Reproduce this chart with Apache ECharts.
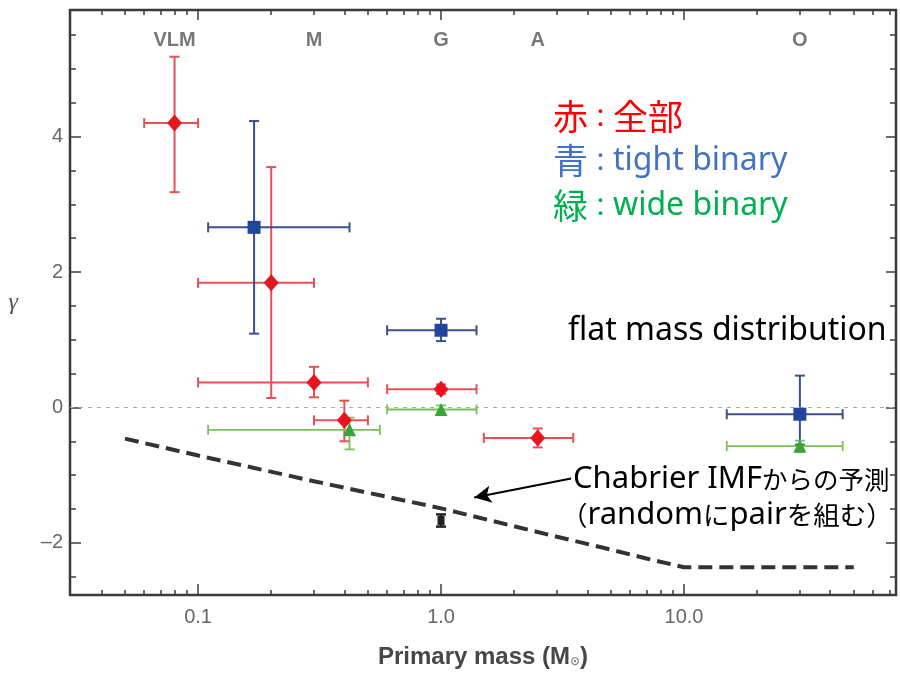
<!DOCTYPE html>
<html><head><meta charset="utf-8">
<script src="https://cdn.jsdelivr.net/npm/echarts@6/dist/echarts.min.js"></script>
<style>html,body{margin:0;padding:0;background:#fff}#c{width:900px;height:673px}</style>
</head><body><div id="c"></div>
<script>
// ---------- data ----------
const xTickValues = [0.1, 1, 10];
const xTickLabels = ['0.1', '1.0', '10.0'];
const xMinorTicks = [0.04,0.05,0.06,0.07,0.08,0.09,0.2,0.3,0.4,0.5,0.6,0.7,0.8,0.9,2,3,4,5,6,7,8,9,20,30,40,50,60,70];
const yTickValues = [-2, 0, 2, 4];
const yTickLabels = ['\u20132', '0', '2', '4'];
const yMinorTicks = [-2.5,-1.5,-1,-0.5,0.5,1,1.5,2.5,3,3.5,4.5,5,5.5];

const spectralTypes = ['VLM', 'M', 'G', 'A', 'O'];
const spectralMass = [0.08, 0.3, 1.0, 2.5, 30];

// red: all
const allMass    = [0.08, 0.2, 0.3, 0.4, 1.0, 2.5];
const allGamma   = [4.2, 1.84, 0.37, -0.19, 0.27, -0.45];
const allMassLo  = [0.06, 0.1, 0.1, 0.3, 0.6, 1.5];
const allMassHi  = [0.1, 0.3, 0.5, 0.5, 1.4, 3.5];
const allGammaLo = [3.18, 0.14, 0.15, -0.5, 0.2, -0.59];
const allGammaHi = [5.18, 3.55, 0.6, 0.1, 0.34, -0.31];

// blue: tight binary
const tightMass    = [0.17, 1.0, 30];
const tightGamma   = [2.66, 1.14, -0.1];
const tightMassLo  = [0.11, 0.6, 15];
const tightMassHi  = [0.42, 1.4, 45];
const tightGammaLo = [1.09, 0.98, -0.55];
const tightGammaHi = [4.23, 1.31, 0.47];

// green: wide binary
const wideMass    = [0.42, 1.0, 30];
const wideGamma   = [-0.33, -0.03, -0.57];
const wideMassLo  = [0.11, 0.6, 15];
const wideMassHi  = [0.56, 1.4, 45];
const wideGammaLo = [-0.62, -0.09, -0.66];
const wideGammaHi = [-0.15, 0.03, -0.49];

// black: random pairing
const randomMass    = [1.0];
const randomGamma   = [-1.67];
const randomGammaLo = [-1.76];
const randomGammaHi = [-1.58];

// Chabrier IMF prediction (dashed)
const chabrierMass  = [0.05, 0.1, 0.3, 1.0, 3.0, 5.0, 7.0, 10, 50];
const chabrierGamma = [-0.46, -0.71, -1.09, -1.49, -1.91, -2.10, -2.23, -2.36, -2.36];

// ---------- chart ----------
const X_MIN = 0.0297, X_MAX = 74.6, Y_MIN = -2.77, Y_MAX = 5.87;
const AX = '#3c3c3c';
const LABEL_GRAY = '#666666';
const NARROW = '"Liberation Sans Narrow", "Liberation Sans", sans-serif';

function fmtX(v) {
  for (let i = 0; i < xTickValues.length; i++)
    if (Math.abs(Math.log10(v) - Math.log10(xTickValues[i])) < 1e-6) return xTickLabels[i];
  return '';
}
function fmtY(v) {
  for (let i = 0; i < yTickValues.length; i++)
    if (Math.abs(v - yTickValues[i]) < 1e-9) return yTickLabels[i];
  return '';
}

function xAxisDef(position, ticks, len, withLabels) {
  const a = {
    type: 'log', logBase: 10, min: X_MIN, max: X_MAX, position: position, gridIndex: 0,
    axisLine: { show: false, onZero: false }, splitLine: { show: false },
    minorTick: { show: false }, minorSplitLine: { show: false },
    axisTick: { show: true, inside: true, length: len, customValues: ticks, lineStyle: { color: AX, width: 1.5 } },
    axisLabel: withLabels ? {
      show: true, customValues: xTickValues, formatter: fmtX, color: LABEL_GRAY,
      fontSize: 20, fontFamily: NARROW, margin: 12
    } : { show: false }
  };
  if (withLabels) {
    a.name = 'Primary mass (M{sub|\u2299})';
    a.nameLocation = 'middle';
    a.nameGap = 50;
    a.nameTextStyle = {
      fontSize: 24, fontWeight: 'bold', color: '#474747', fontFamily: NARROW,
      rich: { sub: { fontSize: 12, color: '#888', fontFamily: 'DejaVu Sans', padding: [10, 0, 0, 0] } }
    };
  }
  return a;
}
function yAxisDef(position, ticks, len, withLabels) {
  const a = {
    type: 'value', min: Y_MIN, max: Y_MAX, position: position, gridIndex: 0,
    axisLine: { show: false, onZero: false }, splitLine: { show: false },
    minorTick: { show: false }, minorSplitLine: { show: false },
    axisTick: { show: true, inside: true, length: len, customValues: ticks, lineStyle: { color: AX, width: 1.5 } },
    axisLabel: withLabels ? {
      show: true, customValues: yTickValues, formatter: fmtY, color: LABEL_GRAY,
      fontSize: 20, fontFamily: NARROW, margin: 7
    } : { show: false }
  };
  if (withLabels) {
    a.name = '\u03b3';
    a.nameLocation = 'middle';
    a.nameRotate = 0;
    a.nameGap = 52;
    a.nameTextStyle = { fontSize: 24, fontStyle: 'italic', color: '#555', fontFamily: '"Liberation Serif", serif', padding: [22, 0, 0, 0] };
  }
  return a;
}

function errorBars(mass, gamma, mlo, mhi, glo, ghi, color, width, z) {
  const data = mass.map((m, i) => [m, gamma[i], mlo[i], mhi[i], glo[i], ghi[i]]);
  return {
    type: 'custom', data: data, z: z, silent: true, clip: false,
    xAxisIndex: 0, yAxisIndex: 0,
    encode: { x: 0, y: 1 },
    renderItem: function (params, api) {
      const yv = api.value(1), xv = api.value(0);
      const l = api.coord([api.value(2), yv]);
      const r = api.coord([api.value(3), yv]);
      const b = api.coord([xv, api.value(4)]);
      const t = api.coord([xv, api.value(5)]);
      const cap = 5;
      const st = { stroke: color, lineWidth: width, fill: null };
      const ch = [];
      const seg = (x1, y1, x2, y2) => ch.push({ type: 'line', shape: { x1, y1, x2, y2 }, style: st });
      if (r[0] - l[0] > 1) {
        seg(l[0], l[1], r[0], r[1]);
        seg(l[0], l[1] - cap, l[0], l[1] + cap);
        seg(r[0], r[1] - cap, r[0], r[1] + cap);
      }
      if (b[1] - t[1] > 1) {
        seg(b[0], b[1], t[0], t[1]);
        seg(b[0] - cap, b[1], b[0] + cap, b[1]);
        seg(t[0] - cap, t[1], t[0] + cap, t[1]);
      }
      return { type: 'group', children: ch };
    }
  };
}
function markers(mass, gamma, symbol, size, color, z) {
  return {
    type: 'scatter', xAxisIndex: 0, yAxisIndex: 0, z: z, silent: true,
    data: mass.map((m, i) => [m, gamma[i]]),
    symbol: symbol, symbolSize: size,
    itemStyle: { color: color, opacity: 1 }
  };
}

const RED = '#e8141e', RED_BAR = '#e85058';
const BLUE = '#23449c', BLUE_BAR = '#3c4f8e';
const GREEN = '#3ba23a', GREEN_BAR = '#79c05a';

const option = {
  animation: false,
  backgroundColor: '#ffffff',
  grid: {
    left: 70, right: 4, top: 10, bottom: 78, containLabel: false, outerBoundsMode: 'none',
    show: true, borderColor: '#3a3a3a', borderWidth: 2.5, backgroundColor: 'transparent'
  },
  xAxis: [
    xAxisDef('bottom', xTickValues, 11, true),
    xAxisDef('bottom', xMinorTicks, 5, false),
    xAxisDef('top', xTickValues, 10, false),
    xAxisDef('top', xMinorTicks, 5, false)
  ],
  yAxis: [
    yAxisDef('left', yTickValues, 11, true),
    yAxisDef('left', yMinorTicks, 6, false),
    yAxisDef('right', yTickValues, 10, false),
    yAxisDef('right', yMinorTicks, 6, false)
  ],
  series: [
    {
      type: 'line', xAxisIndex: 0, yAxisIndex: 0, z: 2, silent: true,
      data: chabrierMass.map((m, i) => [m, chabrierGamma[i]]),
      showSymbol: false, symbol: 'none',
      lineStyle: { color: '#333', width: 4, type: [14, 7] },
      markLine: {
        silent: true, symbol: 'none', label: { show: false },
        lineStyle: { color: '#a8a8a8', width: 1, type: [4, 5] },
        data: [{ yAxis: 0 }]
      }
    },
    errorBars(allMass, allGamma, allMassLo, allMassHi, allGammaLo, allGammaHi, RED_BAR, 2, 3),
    errorBars(tightMass, tightGamma, tightMassLo, tightMassHi, tightGammaLo, tightGammaHi, BLUE_BAR, 2, 3),
    errorBars(wideMass, wideGamma, wideMassLo, wideMassHi, wideGammaLo, wideGammaHi, GREEN_BAR, 1.8, 3),
    errorBars(randomMass, randomGamma, randomMass, randomMass, randomGammaLo, randomGammaHi, '#222', 2.5, 3),
    markers(allMass, allGamma, 'diamond', [15, 17], RED, 5),
    markers(tightMass, tightGamma, 'rect', 13, BLUE, 5),
    markers(wideMass, wideGamma, 'triangle', 13, GREEN, 5),
    Object.assign(markers(randomMass, randomGamma, 'rect', [7, 9], '#222', 5), {
      markLine: {
        silent: true, symbol: ['none', 'arrow'], symbolSize: [13, 17],
        label: { show: false },
        lineStyle: { color: '#000', width: 2, type: 'solid' },
        data: [[{ coord: [3.43, -1.05] }, { coord: [1.37, -1.33] }]]
      }
    }),
    {
      type: 'scatter', xAxisIndex: 0, yAxisIndex: 0, z: 6, silent: true,
      data: spectralMass.map((m, i) => ({ value: [m, 5.42], name: spectralTypes[i] })),
      symbolSize: 0,
      label: {
        show: true, position: 'inside', formatter: '{b}',
        fontSize: 20, fontWeight: 'bold', color: '#555', fontFamily: '"Liberation Sans", sans-serif'
      }
    }
  ],
  graphic: [
    {
      type: 'text', x: 553, y: 117, silent: true,
      style: {
        text: '{c|赤}{p|：}{c|全部}', verticalAlign: 'middle', align: 'left',
        rich: {
          c: { fontSize: 35, fontFamily: '"Noto Sans CJK JP"', fill: '#ff0000' },
          p: { fontSize: 25, fontFamily: '"Noto Sans CJK JP"', fill: '#ff0000' }
        }
      }
    },
    {
      type: 'text', x: 553, y: 161, silent: true,
      style: {
        text: '{c|青}{p|：}{l|tight binary}', verticalAlign: 'middle', align: 'left',
        rich: {
          c: { fontSize: 35, fontFamily: '"Noto Sans CJK JP"', fill: '#4472c4' },
          p: { fontSize: 25, fontFamily: '"Noto Sans CJK JP"', fill: '#4472c4' },
          l: { fontSize: 32, fontFamily: '"Noto Sans"', fill: '#4472c4' }
        }
      }
    },
    {
      type: 'text', x: 553, y: 206, silent: true,
      style: {
        text: '{c|緑}{p|：}{l|wide binary}', verticalAlign: 'middle', align: 'left',
        rich: {
          c: { fontSize: 35, fontFamily: '"Noto Sans CJK JP"', fill: '#00b050' },
          p: { fontSize: 25, fontFamily: '"Noto Sans CJK JP"', fill: '#00b050' },
          l: { fontSize: 32, fontFamily: '"Noto Sans"', fill: '#00b050' }
        }
      }
    },
    {
      type: 'text', x: 568, y: 331, silent: true,
      style: {
        text: 'flat mass distribution', verticalAlign: 'middle', align: 'left',
        fontSize: 32, fontFamily: '"Noto Sans"', fill: '#000'
      }
    },
    {
      type: 'text', x: 573, y: 479, silent: true,
      style: {
        text: '{l|Chabrier IMF}{c|からの予測}', verticalAlign: 'middle', align: 'left',
        rich: {
          l: { fontSize: 31, fontFamily: '"Noto Sans"', fill: '#000' },
          c: { fontSize: 25.5, fontFamily: '"Noto Sans CJK JP"', fill: '#000' }
        }
      }
    },
    {
      type: 'text', x: 561, y: 515, silent: true,
      style: {
        text: '{c|（}{l|random}{c|に}{l|pair}{c|を組む）}', verticalAlign: 'middle', align: 'left',
        rich: {
          l: { fontSize: 31, fontFamily: '"Noto Sans"', fill: '#000' },
          c: { fontSize: 26.5, fontFamily: '"Noto Sans CJK JP"', fill: '#000' }
        }
      }
    }
  ]
};

const chart = echarts.init(document.getElementById('c'), null, { renderer: 'canvas', width: 900, height: 673 });
chart.setOption(option);
</script>
</body></html>
